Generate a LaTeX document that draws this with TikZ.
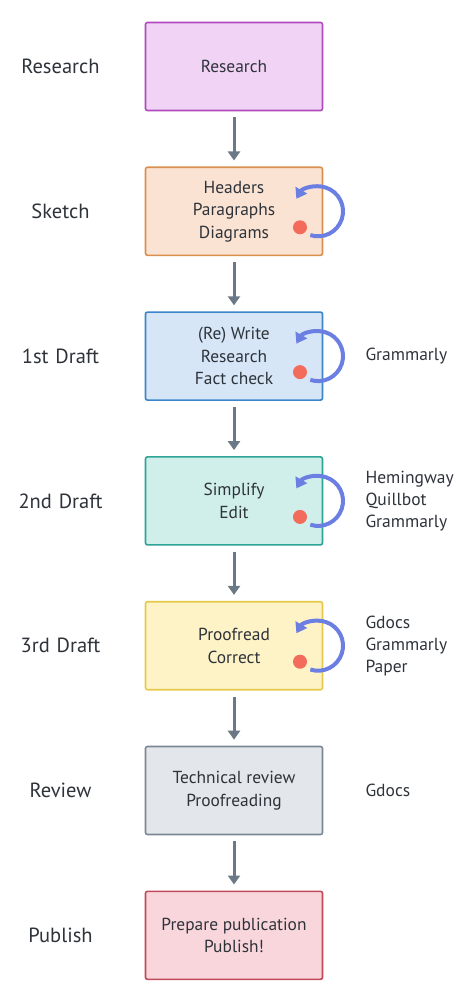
\documentclass[tikz,border=0pt]{standalone}
\usepackage{fontspec}
\setmainfont{PT Sans}
\usepackage{xcolor}
\usetikzlibrary{positioning, arrows.meta}

\definecolor{txt}{HTML}{2E333A}
\definecolor{flowgray}{HTML}{6B7886}
\definecolor{loopblue}{HTML}{6B7FE3}
\definecolor{dotred}{HTML}{F26B5B}

\tikzset{
    stage/.style={draw, line width=1.6pt, rounded corners=2pt, minimum width=177pt,
        minimum height=88pt, align=center, text=txt,
        font=\fontsize{17.4}{22.5}\selectfont},
    phase/.style={text width=100pt, align=center, inner sep=0pt, text=txt,
        font=\fontsize{20.5}{23}\selectfont},
    tools/.style={anchor=west, align=left, inner sep=0pt, text=txt,
        font=\fontsize{17.5}{22}\selectfont},
    flow/.style={draw=flowgray, line width=3pt, shorten <=6pt, shorten >=6pt,
        -{Triangle[width=12pt, length=9pt]}},
    rework/.style={draw=loopblue, line width=4pt,
        -{Triangle[width=13pt, length=10pt]}}
}

\begin{document}
\begin{tikzpicture}[x=1pt, y=1pt]
    \useasboundingbox (0,0) rectangle (474,-1003);
    % 工程
    \node[stage, fill={rgb,255:red,241;green,211;blue,245}, draw={rgb,255:red,176;green,75;blue,191}] (s1) at (234,-66.5) {Research};
    \node[stage, below=55.2pt of s1, fill={rgb,255:red,251;green,227;blue,211}, draw={rgb,255:red,217;green,144;blue,79}] (s2) {Headers\\Paragraphs\\Diagrams};
    \node[stage, below=55.2pt of s2, fill={rgb,255:red,214;green,230;blue,247}, draw={rgb,255:red,59;green,134;blue,201}] (s3) {(Re) Write\\Research\\Fact check};
    \node[stage, below=55.2pt of s3, fill={rgb,255:red,208;green,238;blue,234}, draw={rgb,255:red,46;green,163;blue,150}] (s4) {Simplify\\Edit};
    \node[stage, below=55.2pt of s4, fill={rgb,255:red,253;green,243;blue,199}, draw={rgb,255:red,230;green,201;blue,74}] (s5) {Proofread\\Correct};
    \node[stage, below=55.2pt of s5, fill={rgb,255:red,227;green,231;blue,235}, draw={rgb,255:red,124;green,135;blue,148}] (s6) {Technical review\\Proofreading};
    \node[stage, below=55.2pt of s6, fill={rgb,255:red,249;green,214;blue,220}, draw={rgb,255:red,192;green,74;blue,90}] (s7) {Prepare publication\\Publish!};
    % 段階名
    \node[phase, left=34pt of s1] (p1) {Research};
    \node[phase, left=34pt of s2] (p2) {Sketch};
    \node[phase, left=34pt of s3] (p3) {1st Draft};
    \node[phase, left=34pt of s4] (p4) {2nd Draft};
    \node[phase, left=34pt of s5] (p5) {3rd Draft};
    \node[phase, left=34pt of s6] (p6) {Review};
    \node[phase, left=34pt of s7] (p7) {Publish};
    % ツール
    \node[tools, right=42pt of s3] (t3) {Grammarly};
    \node[tools, right=42pt of s4] (t4) {Hemingway\\Quillbot\\Grammarly};
    \node[tools, right=42pt of s5] (t5) {Gdocs\\Grammarly\\Paper};
    \node[tools, right=42pt of s6] (t6) {Gdocs};
    % 矢印
    \draw[flow] (s1) -- (s2);
    \draw[flow] (s2) -- (s3);
    \draw[flow] (s3) -- (s4);
    \draw[flow] (s4) -- (s5);
    \draw[flow] (s5) -- (s6);
    \draw[flow] (s6) -- (s7);
    % 繰り返し
    \foreach \s in {s2,s3,s4,s5} {
        \fill[dotred] ([shift={(66,-16)}]\s.center) circle (7);
        \draw[rework] ([shift={(76.3,-23.8)}]\s.center) arc[start angle=-108, end angle=150, radius=25];
    }
\end{tikzpicture}
\end{document}
